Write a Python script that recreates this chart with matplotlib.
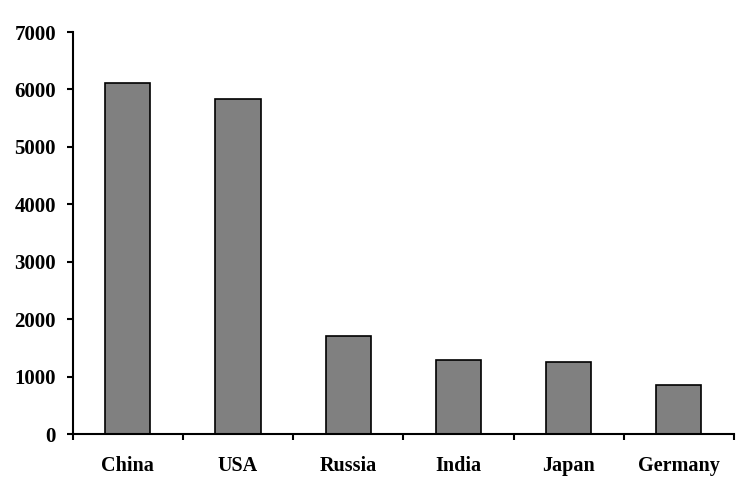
import matplotlib
matplotlib.use("Agg")
import matplotlib.pyplot as plt
import numpy as np

categories = ["China", "USA", "Russia", "India", "Japan", "Germany"]
values = [6120, 5840, 1710, 1290, 1250, 850]
yticks = [0, 1000, 2000, 3000, 4000, 5000, 6000, 7000]

plt.rcParams['font.family'] = ['Liberation Serif', 'DejaVu Serif']
plt.rcParams['font.weight'] = 'bold'

fig = plt.figure(figsize=(7.54, 5.01), dpi=100)
ax = fig.add_axes([0.0964, 0.1337, 0.877, 0.8023])

x = np.arange(len(categories))
ax.bar(x, values, width=0.41, color='#808080', edgecolor='black', linewidth=1.2, zorder=2)

ax.set_xlim(-0.5, len(categories) - 0.5)
ax.set_ylim(0, 7000)
ax.set_yticks(yticks)
ax.set_yticklabels([str(t) for t in yticks], fontsize=15, fontweight='bold')

ax.set_xticks(np.arange(len(categories) + 1) - 0.5)
ax.set_xticklabels([])
ax.set_xticks(x, minor=True)
ax.set_xticklabels(categories, minor=True, fontsize=14.5, fontweight='bold')

ax.tick_params(axis='x', which='major', direction='out', length=4.5, width=1.5)
ax.tick_params(axis='x', which='minor', length=0, pad=16)
ax.tick_params(axis='y', direction='out', length=4.5, width=1.5, pad=7.5)

for s in ['top', 'right']:
    ax.spines[s].set_visible(False)
for s in ['left', 'bottom']:
    ax.spines[s].set_linewidth(1.5)

fig.savefig("out.png", dpi=100)
